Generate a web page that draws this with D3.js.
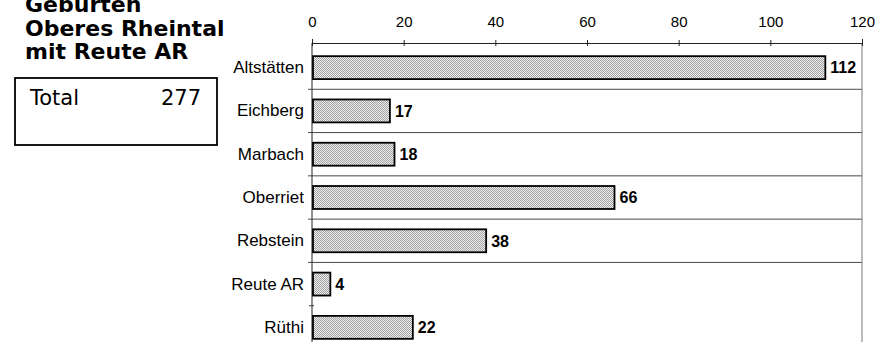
<!DOCTYPE html>
<html>
<head>
<meta charset="utf-8">
<script src="https://cdn.jsdelivr.net/npm/d3@7"></script>
<style>
  html, body { margin: 0; padding: 0; background: #fff; }
  svg { display: block; }
</style>
</head>
<body>
<svg id="chart" width="875" height="342"></svg>
<script>
// Geburten nach Gemeinde
const categories = ["Altstätten", "Eichberg", "Marbach", "Oberriet", "Rebstein", "Reute AR", "Rüthi"];
const values = [112, 17, 18, 66, 38, 4, 22];
const tickValues = [0, 20, 40, 60, 80, 100, 120];
const titleLines = ["Geburten", "Oberes Rheintal", "mit Reute AR"];
const totalLabel = "Total";
const totalValue = 277;

const svg = d3.select("#chart");

// plot geometry
const plotLeft = 312, plotRight = 862, axisY = 43;
const bandTop = 46, bandBottom = 349;

const x = d3.scaleLinear().domain([0, 120]).range([plotLeft, plotRight]);
const y = d3.scaleBand().domain(categories).range([bandTop, bandBottom])
  .paddingInner(0.47).paddingOuter(0.235);

// dithered grey fill for the bars
const defs = svg.append("defs");
const pat = defs.append("pattern").attr("id", "dither")
  .attr("width", 2).attr("height", 2).attr("patternUnits", "userSpaceOnUse");
pat.append("rect").attr("width", 2).attr("height", 2).attr("fill", "#eeeeee");
pat.append("rect").attr("width", 1).attr("height", 1).attr("fill", "#a2a2a2");
pat.append("rect").attr("x", 1).attr("y", 1).attr("width", 1).attr("height", 1).attr("fill", "#a2a2a2");

// boundaries between category bands
const step = y.step();
const bounds = d3.range(1, categories.length).map(i => y(categories[i]) - y.paddingInner() * step / 2);

// separators across the plot (the last band boundary only carries a tick)
svg.append("g").selectAll("line").data(bounds.slice(0, bounds.length - 1)).join("line")
  .attr("x1", plotLeft - 4).attr("x2", plotRight)
  .attr("y1", d => d).attr("y2", d => d)
  .attr("stroke", "#4a4a4a").attr("stroke-width", 1);
svg.append("g").selectAll("line").data(bounds.slice(bounds.length - 1)).join("line")
  .attr("x1", plotLeft - 3).attr("x2", plotLeft + 2)
  .attr("y1", d => d).attr("y2", d => d)
  .attr("stroke", "#4a4a4a").attr("stroke-width", 1);

// right border of plot
svg.append("line")
  .attr("x1", plotRight).attr("x2", plotRight)
  .attr("y1", axisY).attr("y2", 342)
  .attr("stroke", "#777").attr("stroke-width", 1);

// top value axis
const xAxis = d3.axisTop(x).tickValues(tickValues).tickSize(4).tickPadding(12);
const gx = svg.append("g").attr("transform", `translate(0,${axisY})`).call(xAxis);
gx.select(".domain").attr("stroke", "#222").attr("stroke-width", 1);
gx.selectAll(".tick line").attr("stroke", "#222").attr("y2", -3).attr("y1", 3);
gx.selectAll(".tick text")
  .attr("font-family", "Liberation Sans, Arial, sans-serif")
  .attr("font-size", 15).attr("fill", "#000");

// category axis
const yAxis = d3.axisLeft(y).tickSize(0).tickPadding(8);
const gy = svg.append("g").attr("transform", `translate(${plotLeft},0)`).call(yAxis);
gy.select(".domain").remove();
gy.selectAll(".tick text")
  .attr("font-family", "Liberation Sans, Arial, sans-serif")
  .attr("font-size", 17).attr("fill", "#000");
svg.append("line")
  .attr("x1", plotLeft).attr("x2", plotLeft)
  .attr("y1", axisY).attr("y2", 342)
  .attr("stroke", "#222").attr("stroke-width", 1);

// bars
svg.append("g").selectAll("rect").data(values).join("rect")
  .attr("x", x(0) + 1)
  .attr("y", (d, i) => y(categories[i]))
  .attr("width", d => x(d) - x(0) - 1)
  .attr("height", y.bandwidth())
  .attr("fill", "url(#dither)")
  .attr("stroke", "#000").attr("stroke-width", 1.8);

// value labels
svg.append("g").selectAll("text").data(values).join("text")
  .attr("x", d => x(d) + 5)
  .attr("y", (d, i) => y(categories[i]) + y.bandwidth() / 2)
  .attr("dy", "0.36em")
  .attr("font-family", "Liberation Sans, Arial, sans-serif")
  .attr("font-weight", "bold").attr("font-size", 16)
  .text(d => d);

// title
svg.append("g").selectAll("text").data(titleLines).join("text")
  .attr("x", 25).attr("y", (d, i) => 12 + i * 23.5)
  .attr("font-family", "DejaVu Sans, Verdana, sans-serif")
  .attr("font-weight", "bold").attr("font-size", 22)
  .attr("fill", "#000")
  .text(d => d);

// total box
svg.append("rect").attr("x", 15).attr("y", 78).attr("width", 202).attr("height", 67)
  .attr("fill", "#fff").attr("stroke", "#000").attr("stroke-width", 1.8);
svg.append("text").attr("x", 30).attr("y", 105)
  .attr("font-family", "DejaVu Sans, Verdana, sans-serif").attr("font-size", 21)
  .text(totalLabel);
svg.append("text").attr("x", 201).attr("y", 105).attr("text-anchor", "end")
  .attr("font-family", "DejaVu Sans, Verdana, sans-serif").attr("font-size", 21)
  .text(totalValue);
</script>
</body>
</html>
